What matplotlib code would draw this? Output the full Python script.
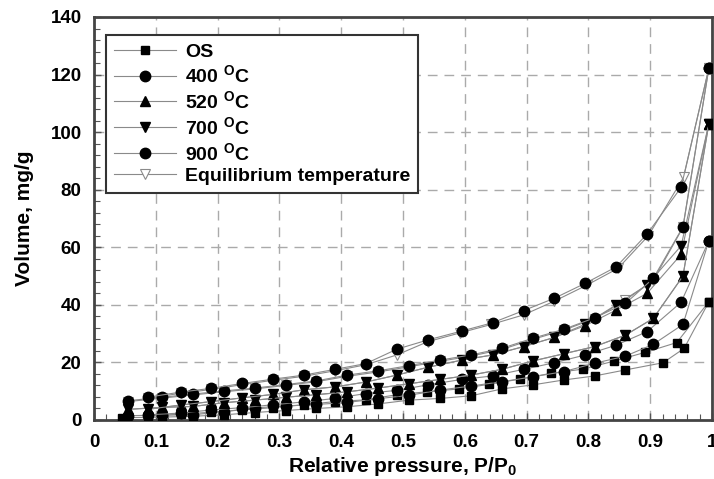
import matplotlib
matplotlib.use("Agg")
import matplotlib.pyplot as plt
from matplotlib.ticker import MultipleLocator
from matplotlib import font_manager

names = {f.name for f in font_manager.fontManager.ttflist}
fam = 'Liberation Sans Narrow' if 'Liberation Sans Narrow' in names else 'Liberation Sans'
plt.rcParams['font.family'] = [fam, 'DejaVu Sans']
plt.rcParams['mathtext.default'] = 'regular'

# ---- data ----
ads_x = [0.055, 0.11, 0.16, 0.21, 0.26, 0.31, 0.36, 0.41, 0.46, 0.51,
         0.56, 0.61, 0.66, 0.71, 0.76, 0.81, 0.86, 0.905, 0.953, 0.995]
des_x = [0.995, 0.95, 0.895, 0.845, 0.795, 0.745, 0.695, 0.645, 0.595, 0.54,
         0.49, 0.44, 0.39, 0.34, 0.29, 0.24, 0.19, 0.14, 0.087]
os_ads_x = [0.045, 0.11, 0.16, 0.21, 0.26, 0.31, 0.36, 0.41, 0.46, 0.51,
            0.56, 0.61, 0.66, 0.71, 0.76, 0.81, 0.86, 0.921, 0.955, 0.995]
os_des_x = [0.995, 0.943, 0.892, 0.842, 0.792, 0.739, 0.689, 0.639, 0.591, 0.539,
            0.49, 0.44, 0.39, 0.34, 0.29, 0.24, 0.19, 0.14, 0.087]
eq_des_x = [0.995, 0.954, 0.897, 0.848, 0.797, 0.745, 0.695, 0.643, 0.593, 0.54,
            0.49, 0.44, 0.39, 0.34, 0.29, 0.24, 0.19, 0.14, 0.087]

os_ads = [0.8, 1.0, 1.3, 1.8, 2.6, 3.3, 4.0, 4.6, 5.6, 6.9,
          7.5, 8.4, 10.8, 12.2, 13.9, 15.3, 17.4, 19.9, 24.9, 41.1]
os_des = [41.1, 26.9, 23.5, 20.5, 17.7, 16.2, 14.2, 12.4, 10.8, 9.8,
          8.8, 7.0, 6.4, 5.3, 4.3, 3.5, 2.7, 2.0, 1.4]

c400_ads = [1.5, 1.7, 1.8, 2.9, 4.2, 4.9, 5.4, 6.1, 7.4, 8.6,
            10.4, 11.8, 13.3, 15.0, 16.8, 19.7, 22.2, 26.3, 33.2, 62.3]
c400_des = [62.3, 40.9, 30.7, 26.0, 22.6, 19.9, 17.6, 15.3, 14.1, 12.2,
            10.3, 9.2, 7.5, 6.3, 5.3, 4.3, 3.5, 2.4, 1.8]

c520_ads = [3.7, 4.4, 4.7, 6.0, 6.9, 7.9, 8.8, 9.8, 11.1, 12.6,
            14.1, 15.6, 17.6, 20.5, 23.0, 25.5, 29.5, 35.3, 50.0, 103.0]
c520_des = [103.0, 57.5, 44.0, 38.2, 32.8, 28.7, 25.5, 22.6, 20.8, 18.3,
            15.6, 13.2, 11.5, 10.5, 8.9, 7.7, 6.4, 5.2, 3.7]

c700_ads = [3.7, 4.4, 4.7, 6.0, 6.9, 7.9, 8.8, 9.8, 11.1, 12.6,
            14.1, 15.6, 17.6, 20.5, 23.0, 25.5, 29.5, 35.3, 50.0, 103.0]
c700_des = [103.0, 60.5, 46.9, 40.0, 33.3, 28.7, 25.5, 22.6, 20.8, 18.3,
            15.6, 13.2, 11.5, 10.5, 8.9, 7.7, 6.4, 5.2, 3.7]

c900_ads = [6.7, 7.9, 9.0, 10.1, 11.1, 12.3, 13.6, 15.6, 17.1, 18.9,
            20.8, 22.6, 24.9, 28.4, 31.5, 35.5, 40.5, 49.2, 67.1, 122.3]
c900_des = [122.3, 80.8, 64.6, 53.2, 47.5, 42.3, 38.0, 33.8, 30.9, 27.8,
            24.6, 19.6, 17.6, 15.6, 14.2, 12.7, 11.0, 9.7, 7.9]

eq_ads = [6.4, 7.6, 8.7, 9.8, 10.8, 12.0, 13.3, 15.2, 16.7, 18.5,
          20.4, 22.2, 24.5, 28.0, 31.2, 35.2, 41.7, 48.5, 66.9, 122.3]
eq_des = [122.3, 84.3, 64.0, 52.7, 46.8, 41.3, 36.5, 33.2, 30.3, 27.2,
          22.6, 19.2, 17.1, 15.2, 13.8, 12.3, 10.6, 9.3, 7.5]

labels = ["OS", "400 $^{O}$C", "520 $^{O}$C", "700 $^{O}$C", "900 $^{O}$C",
          "Equilibrium temperature"]
x_ticks = [0, 0.1, 0.2, 0.3, 0.4, 0.5, 0.6, 0.7, 0.8, 0.9, 1]
x_tick_labels = ["0", "0.1", "0.2", "0.3", "0.4", "0.5", "0.6", "0.7", "0.8", "0.9", "1"]
y_ticks = [0, 20, 40, 60, 80, 100, 120, 140]

# ---- figure ----
fig = plt.figure(figsize=(7.14, 4.79), dpi=100)
ax = fig.add_axes([94 / 714, 1 - 420 / 479, 618 / 714, 403 / 479])

line_kw = dict(color='#8a8a8a', lw=0.8)
series = [
    (os_ads_x, os_ads, os_des_x, os_des, dict(marker='s', ms=5.5, mfc='black', mec='black'), 4),
    (ads_x, c400_ads, des_x, c400_des, dict(marker='o', ms=7.5, mfc='black', mec='black'), 4),
    (ads_x, c520_ads, des_x, c520_des, dict(marker='^', ms=7, mfc='black', mec='black'), 4),
    (ads_x, c700_ads, des_x, c700_des, dict(marker='v', ms=7, mfc='black', mec='black'), 4),
    (ads_x, c900_ads, des_x, c900_des, dict(marker='o', ms=7.5, mfc='black', mec='black'), 4),
    (ads_x, eq_ads, eq_des_x, eq_des, dict(marker='v', ms=6.5, mfc='white', mec='#8a8a8a', mew=0.8), 3),
]

handles = []
for (xa, ya, xd, yd, mk, z), lab in zip(series, labels):
    h, = ax.plot(xa, ya, label=lab, zorder=z, **line_kw, **mk)
    ax.plot(xd, yd, zorder=z, **line_kw, **mk)
    handles.append(h)

ax.set_xlim(0, 1)
ax.set_ylim(0, 140)
ax.set_xticks(x_ticks)
ax.set_xticklabels(x_tick_labels)
ax.set_yticks(y_ticks)
ax.xaxis.set_minor_locator(MultipleLocator(0.02))
ax.yaxis.set_minor_locator(MultipleLocator(4))
ax.tick_params(which='both', direction='in', colors='#555555', labelcolor='black')
ax.tick_params(which='major', length=5, width=1)
ax.tick_params(which='minor', length=4, width=0.8)
for lab in ax.get_xticklabels() + ax.get_yticklabels():
    lab.set_fontsize(13.5)
    lab.set_fontweight('bold')
ax.tick_params(axis='x', pad=10)
ax.tick_params(axis='y', pad=9)

ax.grid(True, which='major', color='#aaaaaa', linestyle=(0, (7, 5)), lw=1.0)
ax.set_axisbelow(True)
for s in ax.spines.values():
    s.set_color('#444444')
    s.set_linewidth(2)

ax.set_xlabel("Relative pressure, P/P$_0$", fontsize=15, fontweight='bold', labelpad=3)
ax.set_ylabel("Volume, mg/g", fontsize=15, fontweight='bold', labelpad=12)

leg = ax.legend(handles=handles, loc='upper left', bbox_to_anchor=(0.019, 0.955),
                borderaxespad=0,
                prop={'weight': 'bold', 'size': 14}, handlelength=3.2,
                frameon=True, fancybox=False, edgecolor='#333333',
                borderpad=0.4, labelspacing=0.2, handletextpad=0.5)
leg.get_frame().set_linewidth(1.5)
leg.get_frame().set_alpha(1)

fig.savefig("out.png", dpi=100)
